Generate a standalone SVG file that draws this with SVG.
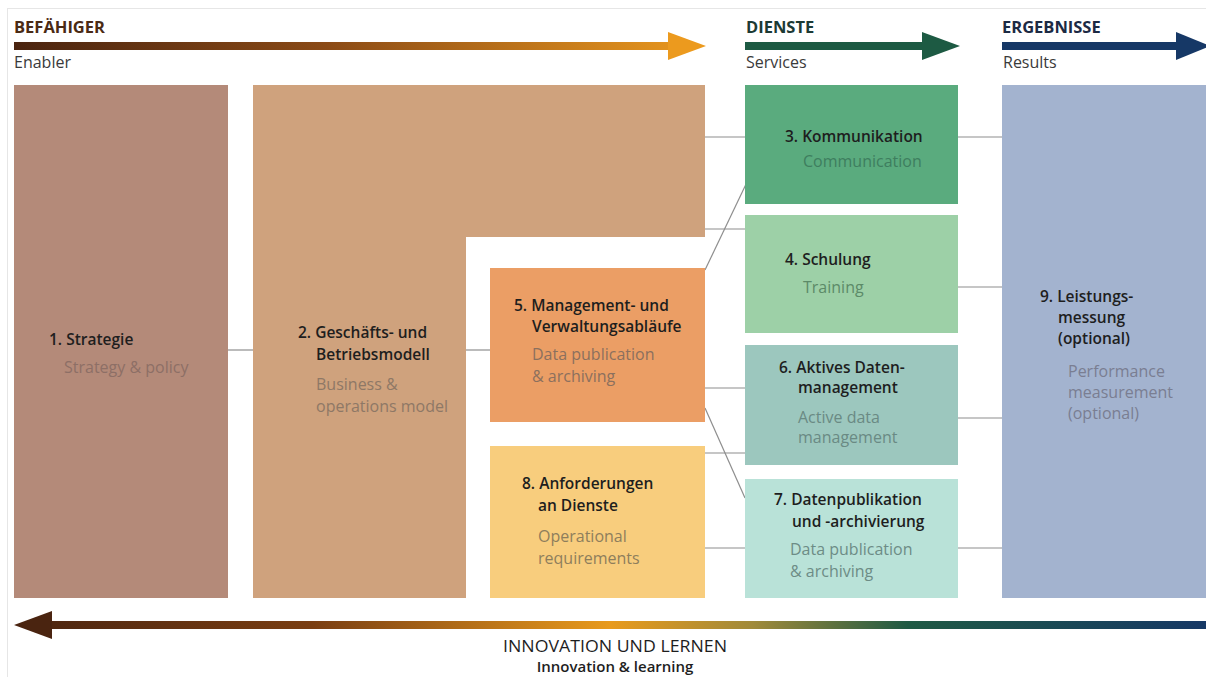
<svg xmlns="http://www.w3.org/2000/svg" width="1206" height="677" viewBox="0 0 1206 677">
<style>
.t{font-family:"Open Sans","Liberation Sans",sans-serif;font-size:15.5px;font-weight:600;fill:#1e1e1e}
.s{font-family:"Open Sans","Liberation Sans",sans-serif;font-size:16px;font-weight:500}
.h{font-family:"Open Sans","Liberation Sans",sans-serif;font-size:16.5px;font-weight:700}
.e{font-family:"Open Sans","Liberation Sans",sans-serif;font-size:16px;fill:#3a3a3a}
.c{stroke:#8e8e8e;stroke-width:1.2;fill:none}
</style>
<defs>
<linearGradient id="gTop" x1="14" y1="0" x2="705" y2="0" gradientUnits="userSpaceOnUse">
<stop offset="0" stop-color="#4a2410"/>
<stop offset="0.45" stop-color="#8a4a16"/>
<stop offset="1" stop-color="#ec9a1e"/>
</linearGradient>
<linearGradient id="gBot" x1="14" y1="0" x2="1206" y2="0" gradientUnits="userSpaceOnUse">
<stop offset="0" stop-color="#4a2410"/>
<stop offset="0.25" stop-color="#7a3e12"/>
<stop offset="0.5" stop-color="#e89a1c"/>
<stop offset="0.62" stop-color="#a08a3a"/>
<stop offset="0.75" stop-color="#1f5a44"/>
<stop offset="1" stop-color="#163866"/>
</linearGradient>
</defs>
<rect x="0" y="0" width="1206" height="677" fill="#ffffff"/>
<rect x="7.5" y="8.5" width="1210" height="680" fill="none" stroke="#e6e6e6" stroke-width="1"/>

<g id="header-enabler">
<rect x="14" y="42" width="656" height="8" fill="url(#gTop)"/>
<polygon points="668,32 706,46 668,60" fill="#ec9a1e"/>
<text class="h" x="14" y="33" fill="#4a2a14">BEFÄHIGER</text>
<text class="e" x="14" y="68">Enabler</text>
</g>
<g id="header-services">
<rect x="745" y="42" width="180" height="8" fill="#1d5a43"/>
<polygon points="922,32 960,46 922,60" fill="#1d5a43"/>
<text class="h" x="746" y="33" fill="#1c3a34">DIENSTE</text>
<text class="e" x="746" y="68">Services</text>
</g>
<g id="header-results">
<rect x="1002" y="42" width="176" height="8" fill="#163866"/>
<polygon points="1176,32 1210,46 1176,60" fill="#163866"/>
<text class="h" x="1002" y="33" fill="#1c2a44">ERGEBNISSE</text>
<text class="e" x="1003" y="68">Results</text>
</g>

<g id="connectors">
<line class="c" x1="228" y1="350" x2="253" y2="350"/>
<line class="c" x1="466" y1="350" x2="490" y2="350"/>
<line class="c" x1="705" y1="137" x2="745" y2="137"/>
<line class="c" x1="705" y1="229" x2="745" y2="229"/>
<line class="c" x1="705" y1="270" x2="748" y2="180"/>
<line class="c" x1="705" y1="388" x2="745" y2="388"/>
<line class="c" x1="705" y1="408" x2="745" y2="498"/>
<line class="c" x1="705" y1="453" x2="745" y2="453"/>
<line class="c" x1="705" y1="548" x2="745" y2="548"/>
<line class="c" x1="958" y1="137" x2="1002" y2="137"/>
<line class="c" x1="958" y1="287" x2="1002" y2="287"/>
<line class="c" x1="958" y1="418" x2="1002" y2="418"/>
<line class="c" x1="958" y1="548" x2="1002" y2="548"/>
</g>

<g id="node1">
<rect x="14" y="85" width="214" height="513" fill="#b48a79"/>
<text class="t" x="49" y="345">1. Strategie</text>
<text class="s" x="64" y="373" fill="#8d6f66">Strategy &amp; policy</text>
</g>
<g id="node2">
<path d="M253,85 H705 V237 H466 V598 H253 Z" fill="#cfa27d"/>
<text class="t" x="298" y="338">2. Geschäfts- und</text>
<text class="t" x="316" y="360">Betriebsmodell</text>
<text class="s" x="316" y="390" fill="#8e7866">Business &amp;</text>
<text class="s" x="316" y="412" fill="#8e7866">operations model</text>
</g>
<g id="node5">
<rect x="490" y="268" width="215" height="154" fill="#eb9e65"/>
<text class="t" x="514" y="311">5. Management- und</text>
<text class="t" x="532" y="332">Verwaltungsabläufe</text>
<text class="s" x="532" y="360" fill="#8b705e">Data publication</text>
<text class="s" x="532" y="382" fill="#8b705e">&amp; archiving</text>
</g>
<g id="node8">
<rect x="490" y="446" width="215" height="152" fill="#f8cd7d"/>
<text class="t" x="522" y="489">8. Anforderungen</text>
<text class="t" x="538" y="511">an Dienste</text>
<text class="s" x="538" y="542" fill="#8e7e5c">Operational</text>
<text class="s" x="538" y="564" fill="#8e7e5c">requirements</text>
</g>
<g id="node3">
<rect x="745" y="85" width="213" height="119" fill="#5aab7e"/>
<text class="t" x="785" y="142">3. Kommunikation</text>
<text class="s" x="803" y="167" fill="#3e7e5e">Communication</text>
</g>
<g id="node4">
<rect x="745" y="215" width="213" height="118" fill="#9dd0a7"/>
<text class="t" x="785" y="265">4. Schulung</text>
<text class="s" x="803" y="293" fill="#5c8a68">Training</text>
</g>
<g id="node6">
<rect x="745" y="345" width="213" height="120" fill="#9cc7be"/>
<text class="t" x="779" y="373">6. Aktives Daten-</text>
<text class="t" x="798" y="393">management</text>
<text class="s" x="798" y="423" fill="#6a8a84">Active data</text>
<text class="s" x="798" y="443" fill="#6a8a84">management</text>
</g>
<g id="node7">
<rect x="745" y="479" width="213" height="119" fill="#b9e2d8"/>
<text class="t" x="774" y="505">7. Datenpublikation</text>
<text class="t" x="792" y="527">und -archivierung</text>
<text class="s" x="790" y="555" fill="#6d8c86">Data publication</text>
<text class="s" x="790" y="577" fill="#6d8c86">&amp; archiving</text>
</g>
<g id="node9">
<rect x="1002" y="85" width="204" height="513" fill="#a3b3cf"/>
<text class="t" x="1040" y="302">9. Leistungs-</text>
<text class="t" x="1058" y="323">messung</text>
<text class="t" x="1058" y="344">(optional)</text>
<text class="s" x="1068" y="377" fill="#7a7e92">Performance</text>
<text class="s" x="1068" y="398" fill="#7a7e92">measurement</text>
<text class="s" x="1068" y="419" fill="#7a7e92">(optional)</text>
</g>

<g id="footer">
<rect x="50" y="621" width="1160" height="8" fill="url(#gBot)"/>
<polygon points="14,625 52,611 52,639" fill="#4a2410"/>
<text x="615" y="652" text-anchor="middle" font-family="'Open Sans','Liberation Sans',sans-serif" font-size="16.5" font-weight="500" fill="#1e1e1e" textLength="224" lengthAdjust="spacingAndGlyphs">INNOVATION UND LERNEN</text>
<text x="615" y="672" text-anchor="middle" font-family="'Open Sans','Liberation Sans',sans-serif" font-size="15" font-weight="600" fill="#1e1e1e">Innovation &amp; learning</text>
</g>
</svg>
